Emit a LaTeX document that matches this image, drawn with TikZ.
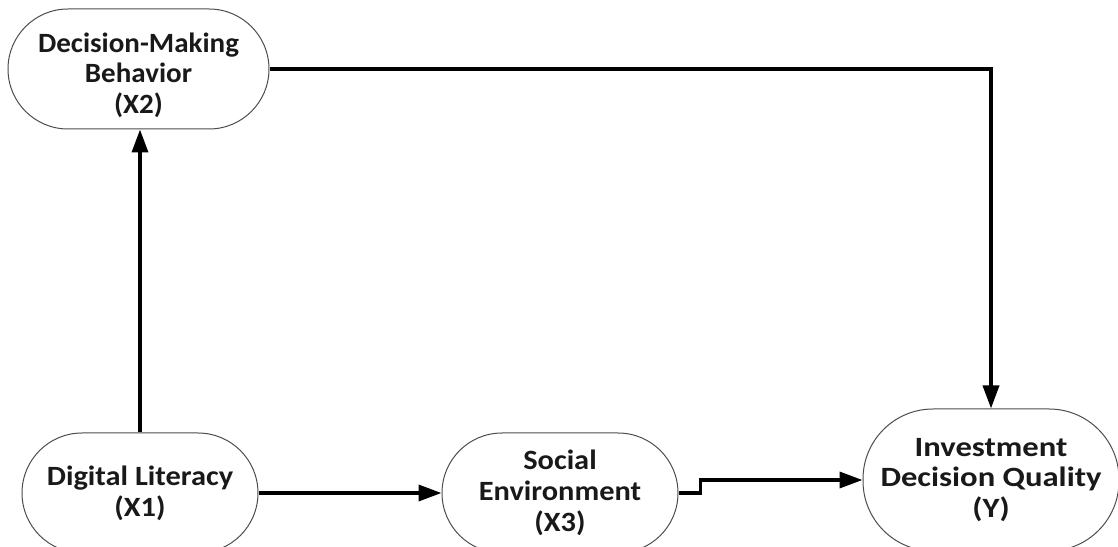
\documentclass[tikz,border=0pt]{standalone}
\usepackage{fontspec}
\setmainfont{Carlito}
\newfontfamily\fsa{Carlito}[FakeStretch=1.04]
\newfontfamily\fsb{Carlito}[FakeStretch=1.09]
\newfontfamily\fsc{Carlito}[FakeStretch=1.17]
\usetikzlibrary{arrows.meta}
\begin{document}
\begin{tikzpicture}[x=1bp,y=-1bp,
  box/.style={draw=black!70, line width=1bp, rounded corners=#1, align=center,
    font=\fontsize{28}{31}\selectfont\bfseries, inner sep=0pt, text=black!90},
  conn/.style={line width=3.5bp, -{Triangle[length=23bp,width=16bp]}}]
\useasboundingbox (0,0) rectangle (1118,547);
\node[box=60bp, minimum width=261bp, minimum height=120bp] (x2) at (138.5,69) {\rule{0pt}{32bp}\fsa\bfseries Decision-Making\\\fsa\bfseries Behavior\\\fsa\bfseries (X2)};
\node[box=60bp, minimum width=236bp, minimum height=120bp] (x1) at (140,493) {\fsb\bfseries Digital Literacy\\\fsb\bfseries (X1)};
\node[box=60bp, minimum width=236bp, minimum height=120bp] (x3) at (560,493) {\fsb\bfseries Social\\\fsb\bfseries Environment\\\fsb\bfseries (X3)};
\node[box=70bp, minimum width=256bp, minimum height=142bp] (y) at (991,480) {\fsc\bfseries Investment\\\fsc\bfseries Decision Quality\\\fsc\bfseries (Y)};
\draw[conn] (x1.north) -- (x1.north |- x2.south);
\draw[conn] (x2.east) -| (y.north);
\draw[conn] (x1.east) -- (x3.west);
\draw[conn] (x3.east) -- ++(22,0) |- (y.west);
\end{tikzpicture}
\end{document}
